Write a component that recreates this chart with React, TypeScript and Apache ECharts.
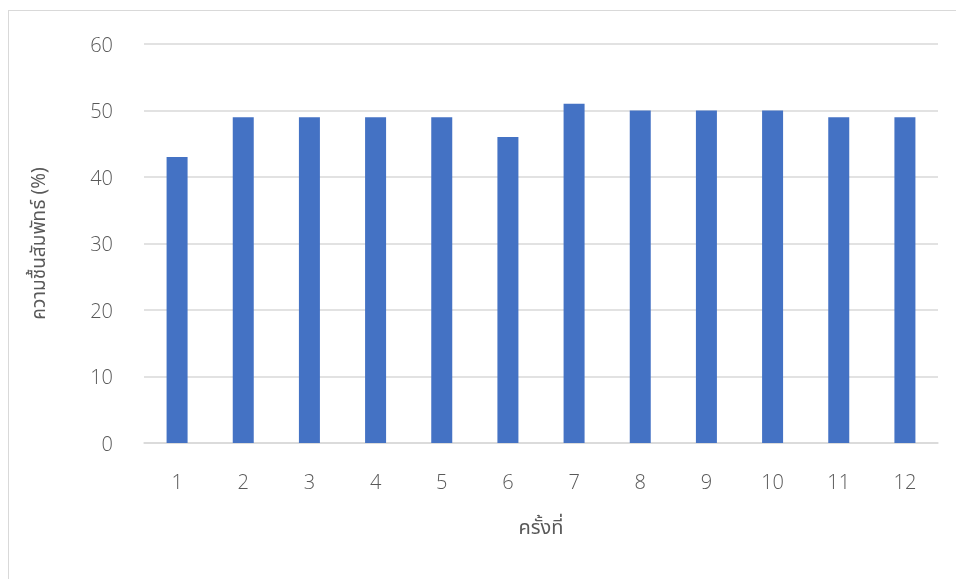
import React, { useEffect, useRef } from "react";
import * as echarts from "echarts";

// ครั้งที่ (measurement round) and relative humidity (%)
const rounds = ["1", "2", "3", "4", "5", "6", "7", "8", "9", "10", "11", "12"];
const humidity = [43, 49, 49, 49, 49, 46, 51, 50, 50, 50, 49, 49];
const yTicks = [0, 10, 20, 30, 40, 50, 60];

const yTitle = "ความชื้นสัมพัทธ์ (%)";
const xTitle = "ครั้งที่";

const NUM_FONT = "'Open Sans', 'Noto Sans', sans-serif";
const THAI_FONT = "'Noto Sans', 'Noto Sans Thai', 'Open Sans', sans-serif";
const TEXT = "#595959";

export default function App() {
  const ref = useRef<HTMLDivElement>(null);

  useEffect(() => {
    if (!ref.current) return;
    const chart = echarts.init(ref.current, null, { renderer: "svg" });
    chart.setOption({
      animation: false,
      backgroundColor: "transparent",
      textStyle: { fontFamily: THAI_FONT },
      grid: { left: 144, right: 18, top: 44, bottom: 136, containLabel: false },
      xAxis: {
        type: "category",
        data: rounds,
        axisLine: { show: true, lineStyle: { color: "#d9d9d9", width: 1.5 } },
        axisTick: { show: false },
        axisLabel: { color: TEXT, fontSize: 20, fontWeight: 300, margin: 28, fontFamily: NUM_FONT },
        name: xTitle,
        nameLocation: "middle",
        nameGap: 73,
        nameTextStyle: { color: TEXT, fontSize: 20, fontWeight: "normal", fontFamily: THAI_FONT },
      },
      yAxis: {
        type: "value",
        min: yTicks[0],
        max: yTicks[yTicks.length - 1],
        interval: 10,
        axisLine: { show: false },
        axisTick: { show: false },
        splitLine: { lineStyle: { color: "#d9d9d9", width: 1.5 } },
        axisLabel: { color: TEXT, fontSize: 20, fontWeight: 300, margin: 31, fontFamily: NUM_FONT },
        name: yTitle,
        nameLocation: "middle",
        nameGap: 97,
        nameRotate: 90,
        nameTextStyle: { color: TEXT, fontSize: 19, fontWeight: "normal", fontFamily: THAI_FONT },
      },
      series: [
        {
          type: "bar",
          data: humidity,
          barWidth: 21,
          itemStyle: { color: "#4472c4" },
        },
      ],
    });
    return () => chart.dispose();
  }, []);

  return (
    <>
      <div
        style={{
          position: "fixed",
          left: 8,
          top: 10,
          width: 960,
          height: 580,
          borderLeft: "1.5px solid #d9d9d9",
          borderTop: "1.5px solid #d9d9d9",
          boxSizing: "border-box",
        }}
      />
      <div
        ref={ref}
        style={{ position: "fixed", left: 0, top: 0, width: 956, height: 579 }}
      />
    </>
  );
}
